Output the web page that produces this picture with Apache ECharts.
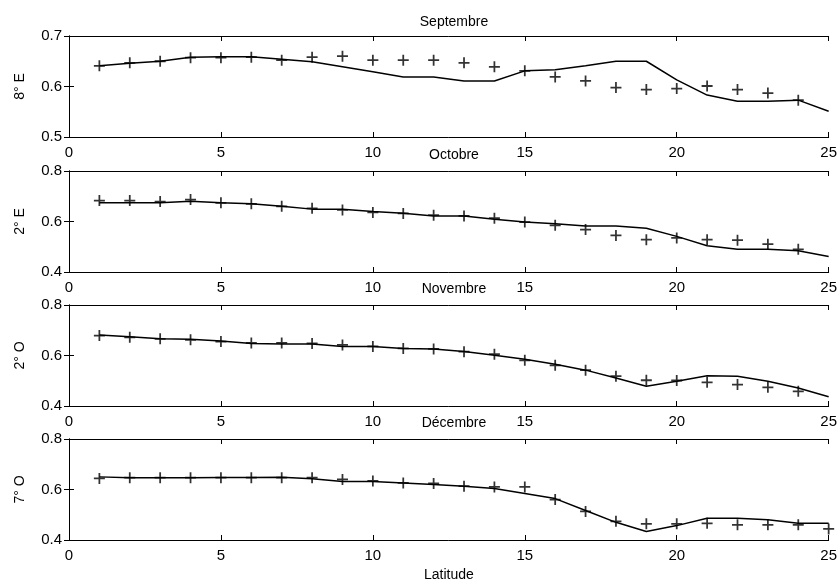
<!DOCTYPE html>
<html>
<head>
<meta charset="utf-8">
<script src="https://cdn.jsdelivr.net/npm/echarts@6/dist/echarts.min.js"></script>
<style>
  html, body { margin: 0; padding: 0; background: #fff; }
  #chart { width: 840px; height: 585px; }
</style>
</head>
<body>
<div id="chart"></div>
<script>
// latitude positions
var lat = [1, 2, 3, 4, 5, 6, 7, 8, 9, 10, 11, 12, 13, 14, 15, 16, 17, 18, 19, 20, 21, 22, 23, 24, 25];

var months = ['Septembre', 'Octobre', 'Novembre', 'Décembre'];
var yNames = ['8° E', '2° E', '2° O', '7° O'];

// model (line)
var sepLine = [0.641, 0.646, 0.650, 0.658, 0.659, 0.659, 0.654, 0.649, 0.639, 0.629, 0.619, 0.619, 0.611, 0.611, 0.631, 0.633, 0.641, 0.650, 0.650, 0.613, 0.583, 0.571, 0.571, 0.573, 0.551];
var octLine = [0.674, 0.674, 0.674, 0.680, 0.674, 0.670, 0.660, 0.649, 0.649, 0.640, 0.633, 0.622, 0.622, 0.609, 0.598, 0.591, 0.582, 0.582, 0.573, 0.541, 0.504, 0.490, 0.490, 0.484, 0.461];
var novLine = [0.681, 0.674, 0.666, 0.664, 0.657, 0.648, 0.646, 0.646, 0.636, 0.636, 0.628, 0.626, 0.616, 0.601, 0.585, 0.565, 0.542, 0.511, 0.478, 0.498, 0.520, 0.518, 0.498, 0.471, 0.437];
var decLine = [0.650, 0.647, 0.647, 0.647, 0.648, 0.648, 0.649, 0.643, 0.632, 0.632, 0.626, 0.620, 0.613, 0.604, 0.584, 0.564, 0.517, 0.470, 0.434, 0.457, 0.486, 0.486, 0.480, 0.466, 0.466];

// observations (+)
var sepObs = [0.641, 0.647, 0.650, 0.657, 0.657, 0.658, 0.652, 0.658, 0.660, 0.652, 0.652, 0.652, 0.647, 0.639, 0.631, 0.619, 0.611, 0.598, 0.594, 0.596, 0.601, 0.594, 0.587, 0.573];
var octObs = [0.683, 0.683, 0.679, 0.687, 0.674, 0.670, 0.660, 0.652, 0.646, 0.636, 0.632, 0.625, 0.622, 0.613, 0.598, 0.585, 0.568, 0.545, 0.528, 0.535, 0.528, 0.526, 0.510, 0.490];
var novObs = [0.679, 0.672, 0.666, 0.662, 0.655, 0.650, 0.650, 0.648, 0.642, 0.636, 0.628, 0.626, 0.615, 0.605, 0.581, 0.561, 0.542, 0.518, 0.502, 0.501, 0.494, 0.485, 0.474, 0.458];
var decObs = [0.644, 0.647, 0.647, 0.647, 0.647, 0.647, 0.647, 0.647, 0.640, 0.634, 0.626, 0.624, 0.613, 0.610, 0.610, 0.560, 0.513, 0.474, 0.464, 0.464, 0.466, 0.460, 0.460, 0.460, 0.444];

var lines = [sepLine, octLine, novLine, decLine];
var obs = [sepObs, octObs, novObs, decObs];
var yMin = [0.5, 0.4, 0.4, 0.4];
var yMax = [0.7, 0.8, 0.8, 0.8];
var yStep = [0.1, 0.2, 0.2, 0.2];

var tops = [36, 171, 305, 439];
var titleY = [10, 143, 277, 411];
var font = 'Liberation Sans, Arial, sans-serif';
var plus = 'path://M-0.8,-5H0.8V-0.8H5V0.8H0.8V5H-0.8V0.8H-5V-0.8H-0.8Z';

function pairs(ys) {
  return ys.map(function (v, i) { return [lat[i], v]; });
}

var chart = echarts.init(document.getElementById('chart'));

var grid = [], xAxis = [], yAxis = [], series = [], title = [];
for (var i = 0; i < 4; i++) {
  grid.push({ left: 69, right: 11, top: tops[i], height: 101 });
  title.push({
    text: months[i], left: 449, top: titleY[i], textAlign: 'center',
    textStyle: { fontFamily: font, fontSize: 14, fontWeight: 'normal', color: '#000' }
  });
  var axisLine = { show: true, lineStyle: { color: '#000', width: 1 } };
  var ticks = { show: true, inside: true, length: 5, lineStyle: { color: '#000' } };
  xAxis.push({
    gridIndex: i, type: 'value', min: 0, max: 25, interval: 5, position: 'bottom',
    axisLine: axisLine, axisTick: ticks, splitLine: { show: false },
    axisLabel: { color: '#000', fontFamily: font, fontSize: 15, margin: 8 },
    name: i === 3 ? 'Latitude' : '', nameLocation: 'middle', nameGap: 28,
    nameTextStyle: { color: '#000', fontFamily: font, fontSize: 14 }
  });
  xAxis.push({
    gridIndex: i, type: 'value', min: 0, max: 25, interval: 5, position: 'top',
    axisLine: axisLine, axisTick: ticks, splitLine: { show: false }, axisLabel: { show: false }
  });
  yAxis.push({
    gridIndex: i, type: 'value', min: yMin[i], max: yMax[i], interval: yStep[i], position: 'left',
    axisLine: axisLine, axisTick: ticks, splitLine: { show: false },
    axisLabel: {
      color: '#000', fontFamily: font, fontSize: 15, margin: 7,
      formatter: function (v) { return v.toFixed(1); }
    },
    name: yNames[i], nameLocation: 'middle', nameGap: 42, nameRotate: 90,
    nameTextStyle: { color: '#000', fontFamily: font, fontSize: 14 }
  });
  yAxis.push({
    gridIndex: i, type: 'value', min: yMin[i], max: yMax[i], interval: yStep[i], position: 'right',
    axisLine: axisLine, axisTick: ticks, splitLine: { show: false }, axisLabel: { show: false }
  });
  series.push({
    type: 'line', xAxisIndex: 2 * i, yAxisIndex: 2 * i, data: pairs(lines[i]),
    showSymbol: false, lineStyle: { color: '#000', width: 1.5 }, z: 2
  });
  series.push({
    type: 'scatter', xAxisIndex: 2 * i, yAxisIndex: 2 * i, data: pairs(obs[i]),
    symbol: plus, symbolSize: 11, itemStyle: { color: '#000' }, z: 3
  });
}

chart.setOption({
  animation: false,
  backgroundColor: '#fff',
  title: title,
  grid: grid,
  xAxis: xAxis,
  yAxis: yAxis,
  series: series
});
</script>
</body>
</html>
